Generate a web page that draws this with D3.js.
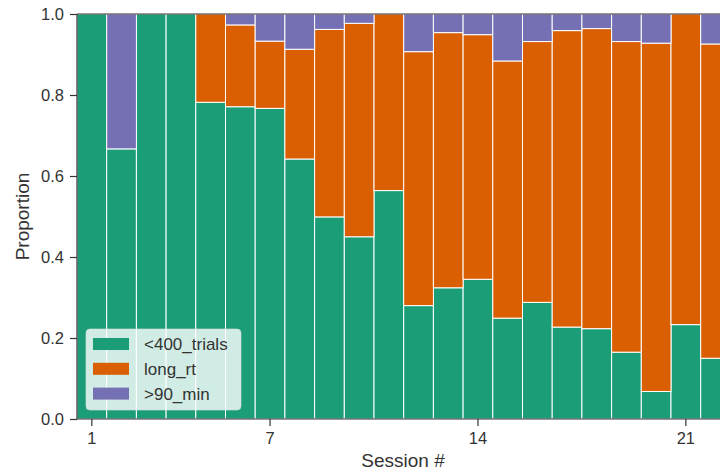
<!DOCTYPE html>
<html>
<head>
<meta charset="utf-8">
<script src="https://cdn.jsdelivr.net/npm/d3@7"></script>
<style>
  body { margin: 0; background: white; }
  svg { display: block; font-family: "Liberation Sans", Arial, sans-serif; }
</style>
</head>
<body>
<div id="chart"></div>
<script>

let w = 720;
let h = 471;

// session numbers and the three proportions per session
let sessions = [1, 2, 3, 4, 5, 6, 7, 8, 9, 10, 11, 12, 13, 14, 15, 16, 17, 18, 19, 20, 21, 22];
let trials400 = [1.0, 0.667, 1.0, 1.0, 0.782, 0.771, 0.767, 0.642, 0.499, 0.45, 0.564,
                 0.28, 0.324, 0.345, 0.249, 0.288, 0.227, 0.223, 0.165, 0.068, 0.233, 0.15];
let longRt = [0, 0, 0, 0, 0.218, 0.202, 0.166, 0.271, 0.463, 0.527, 0.436,
              0.627, 0.63, 0.604, 0.635, 0.644, 0.732, 0.741, 0.767, 0.86, 0.767, 0.776];
let min90 = [0, 0.333, 0, 0, 0, 0.027, 0.067, 0.087, 0.038, 0.023, 0,
             0.093, 0.046, 0.051, 0.116, 0.068, 0.041, 0.036, 0.068, 0.072, 0, 0.074];

let seriesNames = ["<400_trials", "long_rt", ">90_min"];
let colors = ["#1b9e77", "#d95f02", "#7570b3"];
let yTicks = [0, 0.2, 0.4, 0.6, 0.8, 1.0];
let xTicks = [1, 7, 14, 21];

let margin = {left: 77, top: 14, bottom: 52};
let barW = 29.7;
let textColor = "#333";

let viz = d3.select("#chart").append("svg")
	.attr("width", w)
	.attr("height", h)
;

// plot runs past the right edge (the original figure is cropped there)
let xScale = d3.scaleBand().domain(sessions).range([margin.left, margin.left + sessions.length * barW]).padding(0);
let yScale = d3.scaleLinear().domain([0, 1]).range([h - margin.bottom, margin.top]);

let table = sessions.map(function(s, i){
	return {session: s, "<400_trials": trials400[i], "long_rt": longRt[i], ">90_min": min90[i]};
});
let stacked = d3.stack().keys(seriesNames)(table);

let bars = viz.append("g");
bars.selectAll("g").data(stacked).enter().append("g")
	.attr("fill", function(d, i){ return colors[i]; })
	.selectAll("rect").data(function(d){ return d; }).enter()
	.filter(function(d){ return d[1] - d[0] > 0; })
	.append("rect")
		.attr("x", function(d){ return xScale(d.data.session); })
		.attr("width", xScale.bandwidth())
		.attr("y", function(d){ return yScale(d[1]); })
		.attr("height", function(d){ return yScale(d[0]) - yScale(d[1]); })
		.attr("stroke", "white")
		.attr("stroke-width", 1)
;

// axes
let yAxis = d3.axisLeft(yScale).tickValues(yTicks).tickFormat(d3.format(".1f")).tickSize(7).tickPadding(6);
let yG = viz.append("g").attr("transform", "translate(" + margin.left + ",0)").call(yAxis);

let xAxis = d3.axisBottom(xScale).tickValues(xTicks).tickSize(7).tickPadding(6);
let xG = viz.append("g").attr("transform", "translate(0," + (h - margin.bottom) + ")").call(xAxis);

[yG, xG].forEach(function(g){
	g.selectAll("path, line").attr("stroke", textColor).attr("stroke-width", 1.2);
	g.selectAll("text").attr("fill", textColor).style("font-size", "16.5px");
});
xG.select(".domain").attr("d", "M" + margin.left + ",0H" + (margin.left + sessions.length * barW));
yG.select(".domain").attr("d", "M0," + (h - margin.bottom) + "V" + margin.top);

// top spine
viz.append("line")
	.attr("x1", margin.left).attr("x2", margin.left + sessions.length * barW)
	.attr("y1", margin.top).attr("y2", margin.top)
	.attr("stroke", textColor).attr("stroke-width", 1.2);

// axis labels
viz.append("text")
	.attr("x", 403).attr("y", 467)
	.attr("text-anchor", "middle")
	.attr("fill", textColor)
	.style("font-size", "19px")
	.text("Session #");

viz.append("text")
	.attr("transform", "translate(29," + ((h - margin.bottom + margin.top) / 2) + ") rotate(-90)")
	.attr("text-anchor", "middle")
	.attr("fill", textColor)
	.style("font-size", "19px")
	.text("Proportion");

// legend
let legend = viz.append("g").attr("transform", "translate(86,329)");
legend.append("rect")
	.attr("width", 155).attr("height", 81)
	.attr("rx", 4)
	.attr("fill", "white").attr("fill-opacity", 0.8)
	.attr("stroke", "#ddd").attr("stroke-opacity", 0.6);

let items = legend.selectAll(".item").data(seriesNames).enter().append("g")
	.attr("class", "item")
	.attr("transform", function(d, i){ return "translate(7," + (9 + i * 24.8) + ")"; });
items.append("rect")
	.attr("width", 36).attr("height", 12)
	.attr("fill", function(d, i){ return colors[i]; });
items.append("text")
	.attr("x", 51).attr("y", 6)
	.attr("dy", "0.35em")
	.attr("fill", textColor)
	.style("font-size", "17px")
	.text(function(d){ return d; });

</script>
</body>
</html>
